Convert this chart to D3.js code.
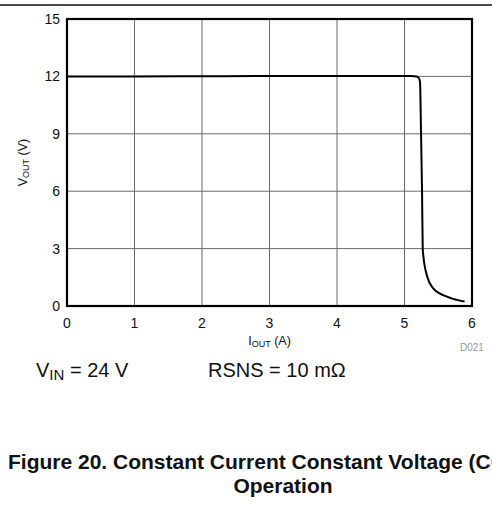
<!DOCTYPE html>
<html>
<head>
<meta charset="utf-8">
<script src="https://cdn.jsdelivr.net/npm/d3@7"></script>
<style>
  body { margin: 0; background: #fff; }
  svg { display: block; }
  text { font-family: "Liberation Sans", Arial, sans-serif; }
</style>
</head>
<body>
<main></main>
<script>
let svgWidth  = 492;
let svgHeight = 516;

// plot area
let plotLeft   = 67;
let plotRight  = 472;
let plotTop    = 19;
let plotBottom = 306;

// axis ticks
const xTicks = [0, 1, 2, 3, 4, 5, 6];
const yTicks = [0, 3, 6, 9, 12, 15];

// measured curve, I_OUT (A) vs V_OUT (V)
const iout = [0, 1, 2, 3, 4, 5, 5.1, 5.18, 5.215, 5.23, 5.245, 5.26, 5.27, 5.28, 5.34, 5.42, 5.52, 5.62, 5.72, 5.89];
const vout = [12.0, 12.0, 12.01, 12.02, 12.02, 12.02, 12.02, 12.0, 11.9, 11.7, 9.0, 6.0, 3.0, 2.6, 1.5, 0.95, 0.66, 0.5, 0.37, 0.23];

var svg = d3
  .select("body main")
  .append('svg')
  .attr('width', svgWidth)
  .attr('height', svgHeight)
;

let x = d3.scaleLinear().domain([0, 6]).range([plotLeft, plotRight]);
let y = d3.scaleLinear().domain([0, 15]).range([plotBottom, plotTop]);

// rule at the top of the page
svg.append('line')
  .attr('x1', 0).attr('x2', svgWidth)
  .attr('y1', 5).attr('y2', 5)
  .attr('stroke', '#111')
  .attr('stroke-width', 1.3);

// grid
svg.append('g')
  .selectAll('line')
  .data(xTicks.slice(1, -1))
  .enter()
    .append('line')
      .attr('x1', d => x(d)).attr('x2', d => x(d))
      .attr('y1', plotTop).attr('y2', plotBottom)
      .attr('stroke', '#6a6a6a')
      .attr('stroke-width', 1);

svg.append('g')
  .selectAll('line')
  .data(yTicks.slice(1, -1))
  .enter()
    .append('line')
      .attr('x1', plotLeft).attr('x2', plotRight)
      .attr('y1', d => y(d)).attr('y2', d => y(d))
      .attr('stroke', '#6a6a6a')
      .attr('stroke-width', 1);

// curve
let pts = iout.map((d, i) => [d, vout[i]]);
let line = d3.line()
  .x(d => x(d[0]))
  .y(d => y(d[1]))
  .curve(d3.curveMonotoneX);

svg.append('path')
  .attr('d', line(pts))
  .attr('fill', 'none')
  .attr('stroke', '#000')
  .attr('stroke-width', 2);

// frame
svg.append('rect')
  .attr('x', plotLeft).attr('y', plotTop)
  .attr('width', plotRight - plotLeft).attr('height', plotBottom - plotTop)
  .attr('fill', 'none')
  .attr('stroke', '#000')
  .attr('stroke-width', 2.2);

// tick labels
svg.append('g')
  .selectAll('text')
  .data(xTicks)
  .enter()
    .append('text')
      .attr('x', d => x(d))
      .attr('y', 328)
      .attr('text-anchor', 'middle')
      .attr('font-size', '14px')
      .attr('fill', '#111')
      .text(d => d);

svg.append('g')
  .selectAll('text')
  .data(yTicks)
  .enter()
    .append('text')
      .attr('x', 60)
      .attr('y', d => y(d) + 5)
      .attr('text-anchor', 'end')
      .attr('font-size', '14px')
      .attr('fill', '#111')
      .text(d => d);

// axis titles
let xl = svg.append('text')
  .attr('x', (plotLeft + plotRight) / 2)
  .attr('y', 345)
  .attr('text-anchor', 'middle')
  .attr('font-size', '12.5px')
  .attr('fill', '#111');
xl.append('tspan').text('I');
xl.append('tspan').attr('font-size', '9px').attr('dy', 2).text('OUT');
xl.append('tspan').attr('dy', -2).text(' (A)');

let yl = svg.append('text')
  .attr('transform', 'translate(27,' + ((plotTop + plotBottom) / 2) + ') rotate(-90)')
  .attr('text-anchor', 'middle')
  .attr('font-size', '12.5px')
  .attr('fill', '#111');
yl.append('tspan').text('V');
yl.append('tspan').attr('font-size', '9px').attr('dy', 2).text('OUT');
yl.append('tspan').attr('dy', -2).text(' (V)');

svg.append('text')
  .attr('x', 460)
  .attr('y', 351)
  .attr('font-size', '10px')
  .attr('fill', '#999')
  .text('D021');

// conditions
let vin = svg.append('text')
  .attr('x', 36)
  .attr('y', 377)
  .attr('font-size', '20px')
  .attr('fill', '#111');
vin.append('tspan').text('V');
vin.append('tspan').attr('font-size', '15px').attr('dy', 3).text('IN');
vin.append('tspan').attr('dy', -3).text(' = 24 V');

svg.append('text')
  .attr('x', 208)
  .attr('y', 377)
  .attr('font-size', '20px')
  .attr('fill', '#111')
  .text('RSNS = 10 m\u03A9');

// caption
svg.append('text')
  .attr('x', 8)
  .attr('y', 469)
  .attr('font-size', '21px')
  .attr('font-weight', 'bold')
  .attr('fill', '#111')
  .text('Figure 20. Constant Current Constant Voltage (CCCV)');

svg.append('text')
  .attr('x', 283)
  .attr('y', 493)
  .attr('text-anchor', 'middle')
  .attr('font-size', '21px')
  .attr('font-weight', 'bold')
  .attr('fill', '#111')
  .text('Operation');
</script>
</body>
</html>
